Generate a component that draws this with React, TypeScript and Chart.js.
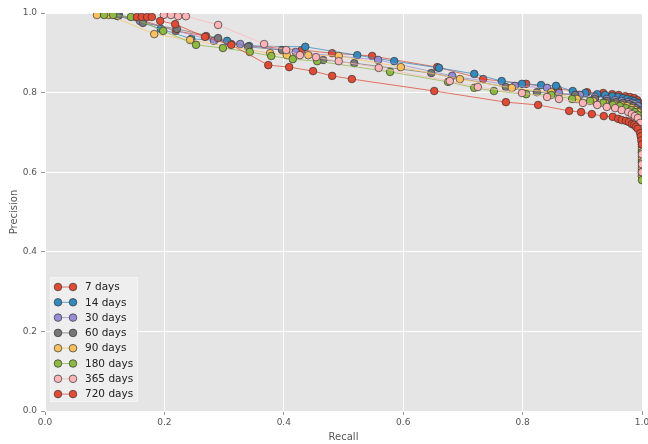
import React, { useEffect, useRef } from "react";
import { Chart, registerables } from "chart.js";

Chart.register(...registerables);

const seriesLabels = ["7 days", "14 days", "30 days", "60 days", "90 days", "180 days", "365 days", "720 days"];
const seriesColors = ["#E24A33", "#348ABD", "#988ED5", "#777777", "#FBC15E", "#8EBA42", "#FFB5B8", "#E24A33"];

const xTicks = [0, 0.2, 0.4, 0.6, 0.8, 1.0];
const yTicks = [0, 0.2, 0.4, 0.6, 0.8, 1.0];

const recall7 = [0.122, 0.162, 0.219, 0.270, 0.312, 0.430, 0.481, 0.548, 0.657, 0.734, 0.806, 0.859, 0.908, 0.935, 0.950, 0.961, 0.972, 0.980, 0.987, 0.992, 0.995, 0.997, 0.998, 0.999, 1.0, 1.0];
const precision7 = [0.995, 0.982, 0.955, 0.942, 0.922, 0.907, 0.899, 0.892, 0.864, 0.834, 0.822, 0.809, 0.801, 0.799, 0.796, 0.794, 0.791, 0.789, 0.786, 0.781, 0.774, 0.764, 0.752, 0.735, 0.715, 0.690];

const recall14 = [0.124, 0.194, 0.245, 0.305, 0.342, 0.436, 0.523, 0.585, 0.660, 0.719, 0.765, 0.799, 0.831, 0.856, 0.884, 0.905, 0.925, 0.938, 0.950, 0.960, 0.968, 0.975, 0.982, 0.987, 0.992, 0.995, 0.997, 0.998, 0.999, 1.0, 1.0, 1.0, 1.0, 1.0];
const precision14 = [0.995, 0.960, 0.935, 0.930, 0.917, 0.915, 0.894, 0.879, 0.862, 0.847, 0.829, 0.822, 0.819, 0.817, 0.804, 0.799, 0.796, 0.794, 0.791, 0.789, 0.786, 0.784, 0.781, 0.779, 0.774, 0.766, 0.756, 0.736, 0.720, 0.700, 0.675, 0.650, 0.625, 0.600];

const recall30 = [0.117, 0.159, 0.283, 0.327, 0.420, 0.558, 0.682, 0.787, 0.841, 0.861, 0.896, 0.921, 0.941, 0.955, 0.966, 0.977, 0.983, 0.988, 0.993, 0.997, 0.998, 0.999, 1.0, 1.0, 1.0, 1.0, 1.0];
const precision30 = [0.995, 0.980, 0.930, 0.922, 0.902, 0.882, 0.842, 0.817, 0.812, 0.799, 0.794, 0.789, 0.784, 0.781, 0.779, 0.776, 0.774, 0.771, 0.766, 0.756, 0.731, 0.710, 0.690, 0.665, 0.640, 0.615, 0.595];

const recall60 = [0.122, 0.164, 0.221, 0.290, 0.340, 0.397, 0.466, 0.518, 0.647, 0.772, 0.824, 0.888, 0.921, 0.941, 0.956, 0.968, 0.978, 0.985, 0.990, 0.995, 0.997, 0.998, 0.999, 1.0, 1.0, 1.0, 1.0, 1.0];
const precision60 = [0.992, 0.975, 0.960, 0.937, 0.915, 0.907, 0.882, 0.874, 0.849, 0.814, 0.801, 0.794, 0.784, 0.779, 0.776, 0.774, 0.771, 0.766, 0.761, 0.754, 0.741, 0.720, 0.700, 0.680, 0.655, 0.630, 0.605, 0.590];

const recall90 = [0.087, 0.107, 0.183, 0.243, 0.377, 0.405, 0.441, 0.492, 0.596, 0.695, 0.782, 0.848, 0.891, 0.918, 0.938, 0.953, 0.965, 0.975, 0.983, 0.988, 0.993, 0.997, 0.998, 0.999, 1.0, 1.0, 1.0, 1.0, 1.0];
const precision90 = [0.995, 0.995, 0.947, 0.932, 0.899, 0.894, 0.894, 0.892, 0.864, 0.834, 0.812, 0.801, 0.784, 0.779, 0.774, 0.771, 0.769, 0.766, 0.761, 0.756, 0.751, 0.741, 0.722, 0.705, 0.685, 0.660, 0.635, 0.610, 0.590];

const recall180 = [0.099, 0.114, 0.144, 0.198, 0.253, 0.298, 0.343, 0.379, 0.415, 0.456, 0.578, 0.675, 0.719, 0.752, 0.806, 0.848, 0.883, 0.913, 0.935, 0.951, 0.963, 0.973, 0.982, 0.988, 0.993, 0.997, 0.998, 0.999, 1.0, 1.0, 1.0, 1.0, 1.0];
const precision180 = [0.995, 0.995, 0.990, 0.955, 0.920, 0.912, 0.902, 0.892, 0.884, 0.879, 0.852, 0.827, 0.812, 0.804, 0.796, 0.794, 0.784, 0.779, 0.774, 0.769, 0.766, 0.761, 0.756, 0.751, 0.744, 0.731, 0.712, 0.695, 0.675, 0.650, 0.625, 0.600, 0.580];

const recall365 = [0.199, 0.211, 0.223, 0.236, 0.290, 0.367, 0.404, 0.427, 0.454, 0.492, 0.559, 0.678, 0.725, 0.799, 0.841, 0.861, 0.901, 0.925, 0.941, 0.955, 0.966, 0.977, 0.983, 0.988, 0.993, 0.997, 0.998, 0.999, 1.0, 1.0, 1.0, 1.0];
const precision365 = [0.995, 0.995, 0.992, 0.992, 0.970, 0.922, 0.907, 0.894, 0.889, 0.879, 0.862, 0.829, 0.814, 0.799, 0.789, 0.784, 0.774, 0.769, 0.764, 0.761, 0.756, 0.751, 0.746, 0.741, 0.736, 0.724, 0.708, 0.690, 0.670, 0.645, 0.620, 0.600];

const recall720 = [0.154, 0.162, 0.171, 0.179, 0.193, 0.218, 0.268, 0.312, 0.374, 0.409, 0.449, 0.481, 0.514, 0.652, 0.772, 0.826, 0.878, 0.898, 0.916, 0.936, 0.951, 0.960, 0.966, 0.973, 0.978, 0.983, 0.987, 0.990, 0.993, 0.997, 0.998, 0.999, 1.0];
const precision720 = [0.990, 0.990, 0.990, 0.990, 0.980, 0.972, 0.940, 0.920, 0.869, 0.864, 0.854, 0.842, 0.834, 0.804, 0.776, 0.769, 0.754, 0.751, 0.746, 0.741, 0.739, 0.734, 0.731, 0.729, 0.726, 0.721, 0.719, 0.714, 0.709, 0.698, 0.690, 0.680, 0.670];

const recallSeries = [recall7, recall14, recall30, recall60, recall90, recall180, recall365, recall720];
const precisionSeries = [precision7, precision14, precision30, precision60, precision90, precision180, precision365, precision720];

function withAlpha(hex: string, a: number) {
  const r = parseInt(hex.slice(1, 3), 16);
  const g = parseInt(hex.slice(3, 5), 16);
  const b = parseInt(hex.slice(5, 7), 16);
  return `rgba(${r},${g},${b},${a})`;
}

const FONT = "'DejaVu Sans', sans-serif";
const LINE_ALPHA = 0.75;

const bgPlugin = {
  id: "plotBg",
  beforeDraw(chart: any) {
    const { ctx, chartArea } = chart;
    ctx.save();
    ctx.fillStyle = "#E5E5E5";
    ctx.fillRect(chartArea.left, chartArea.top, chartArea.right - chartArea.left, chartArea.bottom - chartArea.top);
    ctx.restore();
  },
};

const legendPlugin = {
  id: "insideLegend",
  afterDatasetsDraw(chart: any) {
    const { ctx, chartArea } = chart;
    const x0 = chartArea.left + 5;
    const h = 125;
    const y0 = chartArea.bottom - 9 - h;
    const w = 88;
    ctx.save();
    ctx.fillStyle = "rgba(238,238,238,0.9)";
    ctx.fillRect(x0, y0, w, h);
    ctx.strokeStyle = "#F4F4F4";
    ctx.lineWidth = 1;
    ctx.strokeRect(x0 + 0.5, y0 + 0.5, w - 1, h - 1);
    seriesLabels.forEach((label, i) => {
      const cy = y0 + 10 + i * 15.3;
      const color = seriesColors[i];
      ctx.strokeStyle = withAlpha(color, LINE_ALPHA);
      ctx.lineWidth = 1;
      ctx.beginPath();
      ctx.moveTo(x0 + 8, cy);
      ctx.lineTo(x0 + 23, cy);
      ctx.stroke();
      [x0 + 8, x0 + 23].forEach((mx) => {
        ctx.beginPath();
        ctx.arc(mx, cy, 3.8, 0, Math.PI * 2);
        ctx.fillStyle = color;
        ctx.fill();
        ctx.strokeStyle = "#333333";
        ctx.lineWidth = 0.7;
        ctx.stroke();
      });
      ctx.fillStyle = "#222222";
      ctx.font = `10.5px ${FONT}`;
      ctx.textAlign = "left";
      ctx.textBaseline = "middle";
      ctx.fillText(label, x0 + 35, cy + 0.5);
    });
    ctx.restore();
  },
};

export default function App() {
  const canvasRef = useRef<HTMLCanvasElement | null>(null);

  useEffect(() => {
    const canvas = canvasRef.current;
    if (!canvas) return;
    const n = seriesLabels.length;
    const datasets = seriesLabels.map((label, i) => ({
      label,
      data: recallSeries[i].map((r, k) => ({ x: r, y: precisionSeries[i][k] })),
      borderColor: withAlpha(seriesColors[i], LINE_ALPHA),
      borderWidth: 1,
      pointBackgroundColor: seriesColors[i],
      pointBorderColor: "#333333",
      pointBorderWidth: 0.7,
      pointRadius: 3.8,
      pointHoverRadius: 3.8,
      tension: 0,
      fill: false,
      clip: 0,
      order: n - 1 - i,
    }));

    const chart = new Chart(canvas, {
      type: "line",
      data: { datasets },
      options: {
        responsive: false,
        animation: false,
        maintainAspectRatio: false,
        layout: { padding: { left: 0, top: 13, right: 6, bottom: 0 } },
        plugins: {
          legend: { display: false },
          tooltip: { enabled: false },
        },
        scales: {
          x: {
            type: "linear",
            min: 0,
            max: 1,
            afterBuildTicks: (scale: any) => {
              scale.ticks = xTicks.map((v) => ({ value: v }));
            },
            ticks: {
              callback: (v: any) => Number(v).toFixed(1),
              color: "#555555",
              font: { family: FONT, size: 9 },
              padding: 2,
              maxRotation: 0,
              autoSkip: false,
            },
            grid: { color: "#FFFFFF", lineWidth: 1, tickLength: 4, tickColor: "#999999", drawTicks: true },
            border: { display: false },
            title: {
              display: true,
              text: "Recall",
              color: "#555555",
              font: { family: FONT, size: 10 },
              padding: { top: 0, bottom: 1 },
            },
            afterFit: (scale: any) => {
              scale.height = 33;
              scale.paddingLeft = 0;
              scale.paddingRight = 0;
            },
          },
          y: {
            type: "linear",
            min: 0,
            max: 1,
            afterBuildTicks: (scale: any) => {
              scale.ticks = yTicks.map((v) => ({ value: v }));
            },
            ticks: {
              callback: (v: any) => Number(v).toFixed(1),
              color: "#555555",
              font: { family: FONT, size: 9 },
              padding: 4,
              autoSkip: false,
            },
            grid: { color: "#FFFFFF", lineWidth: 1, tickLength: 4, tickColor: "#999999", drawTicks: true },
            border: { display: false },
            title: {
              display: true,
              text: "Precision",
              color: "#555555",
              font: { family: FONT, size: 10 },
              padding: { top: 8.5, bottom: 0 },
            },
            afterFit: (scale: any) => {
              scale.width = 45;
              scale.paddingTop = 0;
              scale.paddingBottom = 0;
            },
          },
        },
      },
      plugins: [bgPlugin, legendPlugin],
    } as any);

    return () => chart.destroy();
  }, []);

  return (
    <div style={{ position: "fixed", left: 0, top: 0, width: 648, height: 444, background: "#FFFFFF" }}>
      <canvas ref={canvasRef} width={648} height={444} style={{ width: 648, height: 444, display: "block" }} />
    </div>
  );
}
